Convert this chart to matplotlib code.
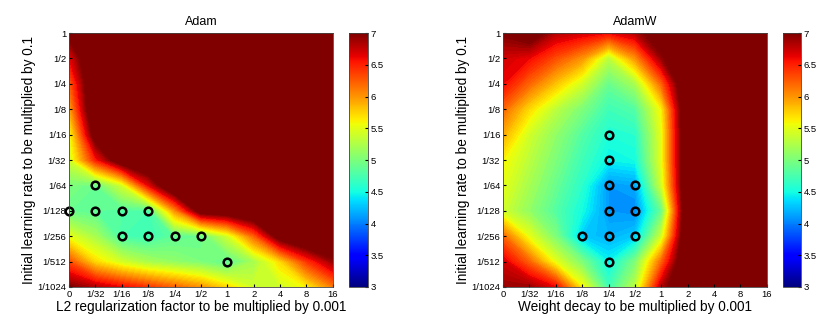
import matplotlib
matplotlib.use("Agg")
import matplotlib.pyplot as plt
import numpy as np
from matplotlib.colors import Normalize

plt.rcParams['font.family'] = ['Liberation Sans', 'DejaVu Sans']

x_labels = ['0', '1/32', '1/16', '1/8', '1/4', '1/2', '1', '2', '4', '8', '16']
y_labels = ['1', '1/2', '1/4', '1/8', '1/16', '1/32', '1/64', '1/128', '1/256', '1/512', '1/1024']

# test error (%), rows from lr=1 (top) down to lr=1/1024, columns follow x_labels
adam_err = [
    [7.1, 7.5, 7.5, 7.5, 7.5, 7.5, 7.5, 7.5, 7.5, 7.5, 7.5],
    [6.6, 7.5, 7.5, 7.5, 7.5, 7.5, 7.5, 7.5, 7.5, 7.5, 7.5],
    [6.2, 7.5, 7.5, 7.5, 7.5, 7.5, 7.5, 7.5, 7.5, 7.5, 7.5],
    [5.9, 7.5, 7.5, 7.5, 7.5, 7.5, 7.5, 7.5, 7.5, 7.5, 7.5],
    [5.5, 7.2, 7.5, 7.5, 7.5, 7.5, 7.5, 7.5, 7.5, 7.5, 7.5],
    [5.4, 6.5, 7.3, 7.5, 7.5, 7.5, 7.5, 7.5, 7.5, 7.5, 7.5],
    [5.0, 4.9, 5.4, 6.6, 7.5, 7.5, 7.5, 7.5, 7.5, 7.5, 7.5],
    [4.9, 4.85, 4.8, 4.75, 6.0, 7.2, 7.3, 7.5, 7.5, 7.5, 7.5],
    [5.5, 5.2, 4.75, 4.7, 4.85, 4.9, 5.4, 6.2, 7.2, 7.5, 7.5],
    [6.3, 5.7, 5.4, 5.2, 5.1, 5.0, 4.85, 5.2, 5.7, 6.4, 6.9],
    [7.0, 6.8, 6.6, 6.4, 6.2, 6.0, 5.7, 5.4, 5.4, 5.6, 6.1],
]

adamw_err = [
    [7.0, 7.2, 6.8, 6.7, 6.6, 6.8, 7.3, 7.5, 7.5, 7.5, 7.5],
    [6.7, 6.6, 6.3, 6.0, 5.3, 6.0, 6.9, 7.5, 7.5, 7.5, 7.5],
    [6.6, 6.2, 5.8, 5.4, 4.9, 5.2, 6.2, 7.5, 7.5, 7.5, 7.5],
    [6.2, 5.7, 5.3, 5.0, 4.7, 4.8, 5.6, 7.5, 7.5, 7.5, 7.5],
    [5.9, 5.4, 5.1, 4.8, 4.55, 4.6, 5.5, 7.5, 7.5, 7.5, 7.5],
    [5.6, 5.3, 5.0, 4.7, 4.45, 4.5, 5.5, 7.5, 7.5, 7.5, 7.5],
    [5.5, 5.2, 4.9, 4.6, 4.1, 4.15, 5.4, 7.5, 7.5, 7.5, 7.5],
    [5.4, 5.1, 4.8, 4.5, 4.1, 4.05, 4.9, 7.5, 7.5, 7.5, 7.5],
    [6.2, 5.5, 5.0, 4.3, 4.2, 4.3, 5.4, 7.5, 7.5, 7.5, 7.5],
    [6.7, 6.2, 5.5, 5.0, 4.45, 5.0, 6.2, 7.5, 7.5, 7.5, 7.5],
    [6.9, 6.9, 6.6, 5.6, 4.7, 5.3, 6.8, 7.5, 7.5, 7.5, 7.5],
]

# best settings marked with circles (x label, y label)
adam_best = [('1/32', '1/64'), ('0', '1/128'), ('1/32', '1/128'), ('1/16', '1/128'),
             ('1/8', '1/128'), ('1/16', '1/256'), ('1/8', '1/256'), ('1/4', '1/256'),
             ('1/2', '1/256'), ('1', '1/512')]
adamw_best = [('1/4', '1/16'), ('1/4', '1/32'), ('1/4', '1/64'), ('1/2', '1/64'),
              ('1/4', '1/128'), ('1/2', '1/128'), ('1/8', '1/256'), ('1/4', '1/256'),
              ('1/2', '1/256'), ('1/4', '1/512')]

fig = plt.figure(figsize=(8.35, 3.31), dpi=100)
levels = np.linspace(3, 7, 81)
xs = np.arange(len(x_labels))
ys = np.arange(len(y_labels))[::-1]
norm = Normalize(3, 7)


def panel(ax_rect, cb_rect, data, best, title, xlabel):
    ax = fig.add_axes(ax_rect)
    ax.contourf(xs, ys, np.array(data), levels=levels, cmap='jet', norm=norm, extend='both')
    bx = [x_labels.index(p[0]) for p in best]
    by = [len(y_labels) - 1 - y_labels.index(p[1]) for p in best]
    ax.plot(bx, by, 'o', ms=5.5, mfc='none', mec='black', mew=1.8, clip_on=False)
    ax.set_xlim(0, 10)
    ax.set_ylim(0, 10)
    ax.set_xticks(xs)
    ax.set_xticklabels(x_labels, fontsize=6.8)
    ax.set_yticks(ys)
    ax.set_yticklabels(y_labels, fontsize=6.8)
    ax.tick_params(direction='in', length=2, pad=2)
    ax.set_title(title, fontsize=9, pad=6)
    ax.set_xlabel(xlabel, fontsize=9.8, labelpad=1)
    ax.set_ylabel('Initial learning rate to be multiplied by 0.1', fontsize=9.8, labelpad=1)
    for s in ax.spines.values():
        s.set_color('#444444')
        s.set_linewidth(0.6)
    cax = fig.add_axes(cb_rect)
    sm = plt.cm.ScalarMappable(norm=norm, cmap='jet')
    cb = fig.colorbar(sm, cax=cax, ticks=np.arange(3, 7.01, 0.5), format='%g')
    cb.ax.tick_params(labelsize=6.8, direction='in', length=2, pad=2)
    cb.outline.set_edgecolor('#444444')
    cb.outline.set_linewidth(0.6)


panel([0.0826, 0.133, 0.316, 0.767], [0.418, 0.133, 0.0228, 0.767],
      adam_err, adam_best, 'Adam', 'L2 regularization factor to be multiplied by 0.001')
panel([0.6024, 0.133, 0.316, 0.767], [0.9377, 0.133, 0.0216, 0.767],
      adamw_err, adamw_best, 'AdamW', 'Weight decay to be multiplied by 0.001')

fig.savefig('out.png', dpi=100)
